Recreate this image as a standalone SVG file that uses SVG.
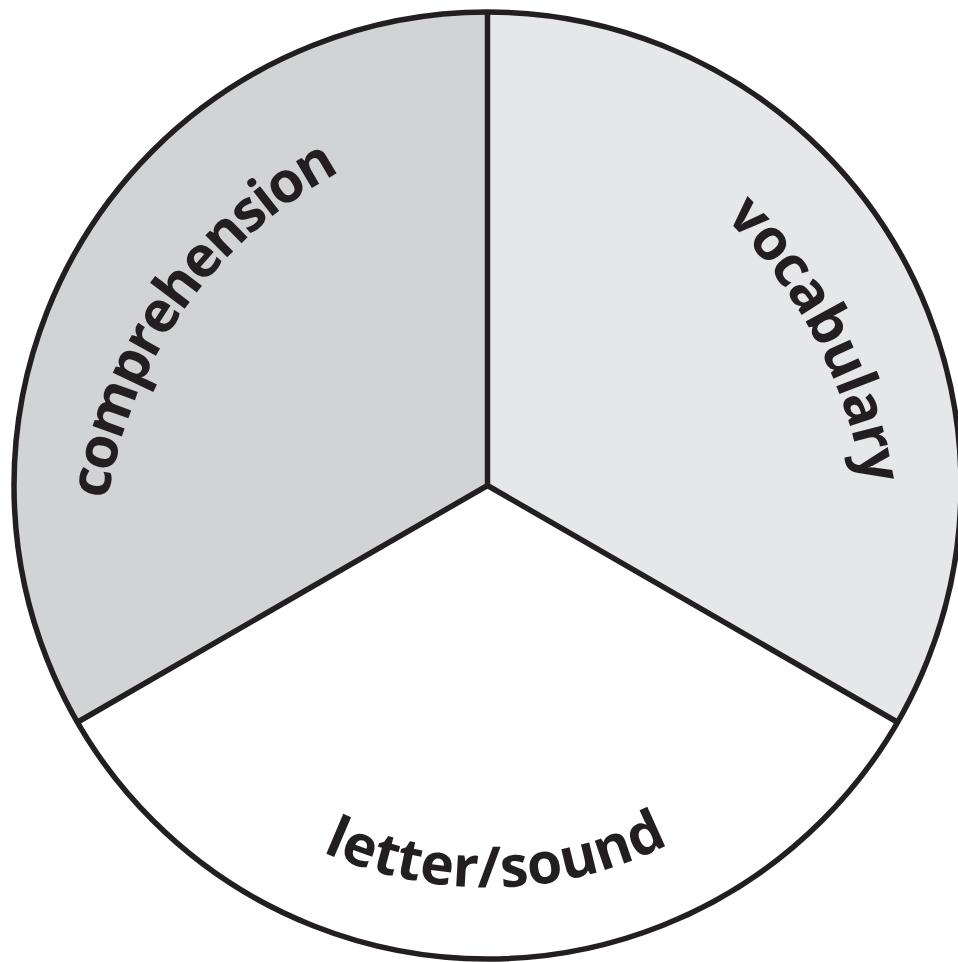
<svg xmlns="http://www.w3.org/2000/svg" width="958" height="962" viewBox="0 0 958 962">
<style>
.lbl{font-family:"Open Sans","Liberation Sans",sans-serif;font-weight:700;font-size:57px;fill:#231f20}
.edge{stroke:#231f20;stroke-width:5.5;fill:none;stroke-linejoin:miter}
</style>
<defs>
<path id="pc" d="M117.4,683.3 A450,450 0 0,1 514.8,120.0"/>
<path id="pv" d="M493.6,92.5 A480,480 0 0,1 832.6,745.1"/>
<path id="pl" d="M185.5,750.8 A402,402 0 0,0 801.2,736.8"/>
</defs>
<rect width="958" height="962" fill="#ffffff"/>
<g id="comprehension">
<path d="M487.5,485.5 L487.5,12 A473.5,473.5 0 0,0 77.4,722.25 Z" fill="#d1d3d4"/>
<text class="lbl" letter-spacing="-2.2"><textPath href="#pc" startOffset="50%" text-anchor="middle">comprehension</textPath></text>
</g>
<g id="vocabulary">
<path d="M487.5,485.5 L487.5,12 A473.5,473.5 0 0,1 897.6,722.25 Z" fill="#e6e7e8"/>
<text class="lbl" font-size="58" letter-spacing="-1"><textPath href="#pv" startOffset="50%" text-anchor="middle">vocabulary</textPath></text>
</g>
<g id="letter-sound">
<path d="M487.5,485.5 L897.6,722.25 A473.5,473.5 0 0,1 77.4,722.25 Z" fill="#ffffff"/>
<text class="lbl" font-size="59"><textPath href="#pl" startOffset="50%" text-anchor="middle">letter/sound</textPath></text>
</g>
<g id="connectors">
<circle class="edge" cx="487.5" cy="485.5" r="473.5"/>
<path class="edge" d="M487.5,12 L487.5,485.5 M77.4,722.25 L487.5,485.5 L897.6,722.25"/>
</g>
</svg>
